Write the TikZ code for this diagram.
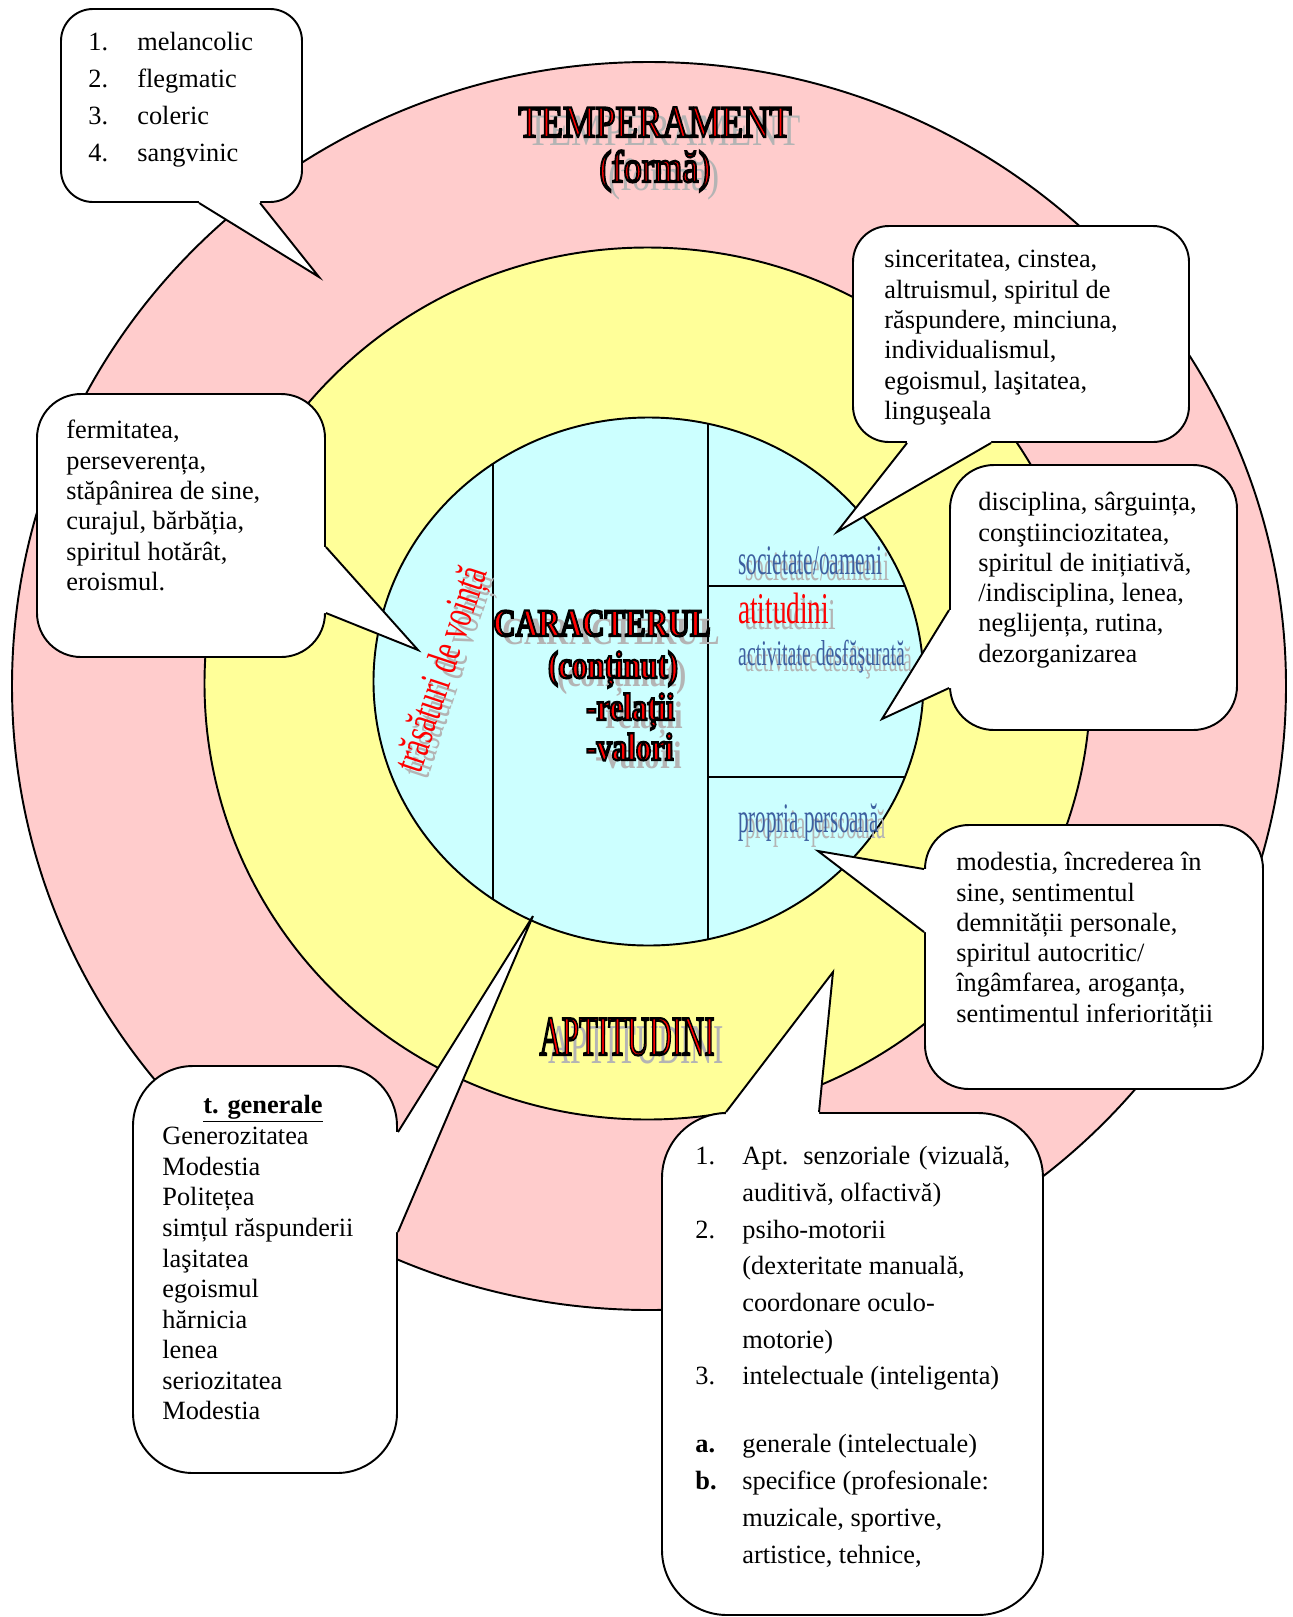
\documentclass[tikz,border=0pt]{standalone}
\usepackage{fontspec}
\setmainfont{Liberation Serif}
\usepackage{graphicx}
\usepackage{tikz}
\usetikzlibrary{calc,fit}

\definecolor{outerpink}{RGB}{255,204,204}
\definecolor{midyellow}{RGB}{255,255,153}
\definecolor{corecyan}{RGB}{204,255,255}
\definecolor{slateblue}{RGB}{61,96,160}
\definecolor{shadegray}{RGB}{180,180,180}

\newcommand{\bodyfont}{\fontsize{15}{17.25}\selectfont}
\newcommand{\listfont}{\fontsize{15}{21}\selectfont}
\newcommand{\aptfont}{\fontsize{15}{20.9}\selectfont}
\newcommand{\numcol}[1]{\makebox[0.98cm][l]{#1}}
\newcommand{\aptcol}[1]{\makebox[0.94cm][l]{#1}}

% fill in the current colour, stroke in black
\newcommand{\rimmed}[1]{\special{pdf:code q 0 0 0 RG 1.3 w 2 Tr}#1\special{pdf:code Q}}
% red letters with a black rim and a grey shadow
\newcommand{\artword}[4]{%
  \node[#1, text=shadegray] (#2-shade) at ($(#3)+(9,8)$) {#4};
  \node[#1, text=red] (#2) at (#3) {\rimmed{#4}};}
% plain coloured letters with a grey shadow
\newcommand{\flatword}[5]{%
  \node[#1, text=shadegray] (#2-shade) at ($(#3)+(7,6)$) {#4};
  \node[#1, text=#5] (#2) at (#3) {#4};}
% wedge of a callout: base points, tip, inward shift
\newcommand{\tailto}[4]{%
  \fill[white] ($(#1)+(#4)$) -- (#1) -- (#3) -- (#2) -- ($(#2)+(#4)$) -- cycle;
  \draw[tailline] (#1) -- (#3) -- (#2);}

\tikzset{
  ring/.style={draw=black, line width=1.1pt},
  callout/.style={draw=black, fill=white, line width=1.1pt, inner sep=0pt},
  tailline/.style={draw=black, line width=1.1pt, line join=miter},
  calltext/.style={anchor=north west, align=left, inner sep=0pt, font=\bodyfont},
}

\begin{document}
\begin{tikzpicture}[x=0.02cm, y=-0.02cm]
  \useasboundingbox (0,0) rectangle (1293,1617);
  \fill[white] (0,0) rectangle (1293,1617);

  % Rings: temperament, aptitudini, caracter
  \coordinate (outerC) at (649,686);
  \coordinate (midC) at (647.5,683.5);
  \coordinate (coreC) at (648.5,681.5);
  \draw[ring, fill=outerpink] (outerC) ellipse [x radius=637, y radius=624];
  \draw[ring, fill=midyellow] (midC) ellipse [x radius=443, y radius=436];
  \draw[ring, fill=corecyan] (coreC) ellipse [x radius=275, y radius=264];

  % Partitions inside the core
  \begin{scope}
    \clip (coreC) ellipse [x radius=275, y radius=264];
    \draw[ring] (493,400) -- (493,960);
    \draw[ring] (708,400) -- (708,960);
    \draw[ring] (708,586) -- (940,586);
    \draw[ring] (708,777) -- (940,777);
  \end{scope}

  % Ring titles
  \artword{anchor=base, font=\fontsize{25.6}{30}\selectfont}{temper}{655,137}{\scalebox{0.81}[1]{TEMPERAMENT}}
  \artword{anchor=base, font=\fontsize{25.6}{30}\selectfont}{forma}{655,182}{\scalebox{0.81}[1]{(formă)}}
  \artword{anchor=base, font=\fontsize{32}{36}\selectfont}{aptit}{627,1055}{\scalebox{0.55}[1]{APTITUDINI}}

  % Core labels
  \artword{anchor=base, font=\fontsize{21.9}{26}\selectfont\bfseries}{caract}{602,636}{\scalebox{0.8}[1]{CARACTERUL}}
  \artword{anchor=base, font=\fontsize{21.9}{26}\selectfont\bfseries}{continut}{613,678}{\scalebox{0.8}[1]{(conținut)}}
  \artword{anchor=base west, font=\fontsize{21.9}{26}\selectfont\bfseries}{relatii}{580,720}{\scalebox{0.8}[1]{-relații}}
  \artword{anchor=base west, font=\fontsize{21.9}{26}\selectfont\bfseries}{valori}{580,760}{\scalebox{0.8}[1]{-valori}}
  \flatword{anchor=base west, font=\fontsize{23.9}{28}\selectfont}{societate}{732,574}{\scalebox{0.51}[1]{societate/oameni}}{slateblue}
  \flatword{anchor=base west, font=\fontsize{25}{30}\selectfont}{atitudini}{732,623}{\scalebox{0.62}[1]{atitudini}}{red}
  \flatword{anchor=base west, font=\fontsize{20.5}{24}\selectfont}{activitate}{732,665}{\scalebox{0.55}[1]{activitate desfăşurată}}{slateblue}
  \flatword{anchor=base west, font=\fontsize{23.9}{28}\selectfont}{propria}{732,832}{\scalebox{0.5}[1]{propria persoană}}{slateblue}
  \flatword{rotate=71.6, font=\fontsize{25}{30}\selectfont}{vointa}{444,670}{\scalebox{0.67}[1]{trăsături de voință}}{red}

  % Callout: temperament types
  \node[callout, rounded corners=0.64cm, fit={(61,9) (302,202)}] (tempBox) {};
  \coordinate (tempTip) at (319,277);
  \coordinate (tempA) at ($(tempBox.south west)+(139,0)$);
  \coordinate (tempB) at ($(tempBox.south west)+(200,0)$);
  \tailto{tempA}{tempB}{tempTip}{0,-4}
  \node[calltext, font=\listfont] (tempText) at (88,32)
    {\numcol{1.}melancolic\\ \numcol{2.}flegmatic\\ \numcol{3.}coleric\\ \numcol{4.}sangvinic};

  % Callout: society
  \node[callout, rounded corners=0.72cm, fit={(853,226) (1189,442)}] (sincBox) {};
  \coordinate (sincTip) at (837,532);
  \coordinate (sincA) at ($(sincBox.south west)+(55,0)$);
  \coordinate (sincB) at ($(sincBox.south west)+(139,0)$);
  \tailto{sincA}{sincB}{sincTip}{0,-4}
  \node[calltext] (sincText) at (884,250)
    {sinceritatea, cinstea,\\ altruismul, spiritul de\\ răspundere, minciuna,\\
     individualismul,\\ egoismul, laşitatea,\\ linguşeala};

  % Callout: will
  \node[callout, rounded corners=0.88cm, fit={(37,394) (325,657)}] (fermBox) {};
  \coordinate (fermTip) at (418,650);
  \coordinate (fermA) at ($(fermBox.north east)+(0,154)$);
  \coordinate (fermB) at ($(fermBox.north east)+(0,220)$);
  \tailto{fermA}{fermB}{fermTip}{-4,0}
  \node[calltext] (fermText) at (66,420)
    {fermitatea,\\ perseverența,\\ stăpânirea de sine,\\ curajul, bărbăția,\\
     spiritul hotărât,\\ eroismul.};

  % Callout: activity
  \node[callout, rounded corners=0.88cm, fit={(950,465) (1237,730)}] (discBox) {};
  \coordinate (discTip) at (882,719);
  \coordinate (discA) at ($(discBox.north west)+(0,146)$);
  \coordinate (discB) at ($(discBox.north west)+(0,224)$);
  \tailto{discA}{discB}{discTip}{4,0}
  \node[calltext] (discText) at (978,492)
    {disciplina, sârguința,\\ conştiinciozitatea,\\ spiritul de inițiativă,\\
     /indisciplina, lenea,\\ neglijența, rutina,\\ dezorganizarea};

  % Callout: own person
  \node[callout, rounded corners=0.88cm, fit={(925,825) (1263,1089)}] (modBox) {};
  \coordinate (modTip) at (818,851);
  \coordinate (modA) at ($(modBox.north west)+(0,45)$);
  \coordinate (modB) at ($(modBox.north west)+(0,108)$);
  \tailto{modA}{modB}{modTip}{4,0}
  \node[calltext] (modText) at (956,852)
    {modestia, încrederea în\\ sine, sentimentul\\ demnității personale,\\
     spiritul autocritic/\\ îngâmfarea, aroganța,\\ sentimentul inferiorității};

  % Callout: general traits
  \node[callout, rounded corners=1.2cm, fit={(133,1066) (397,1473)}] (tgenBox) {};
  \coordinate (tgenTip) at (533,916);
  \coordinate (tgenA) at ($(tgenBox.north east)+(0,67)$);
  \coordinate (tgenB) at ($(tgenBox.north east)+(0,167)$);
  \tailto{tgenA}{tgenB}{tgenTip}{-4,0}
  \node[anchor=base, inner sep=0pt, font=\bodyfont\bfseries] (tgenTitle) at (263,1113) {\underline{t. generale}};
  \node[calltext, font=\fontsize{15}{17.4}\selectfont] (tgenText) at (162,1127)
    {Generozitatea\\ Modestia\\ Politețea\\ simțul răspunderii\\ laşitatea\\
     egoismul\\ hărnicia\\ lenea\\ seriozitatea\\ Modestia};

  % Callout: aptitudes
  \node[callout, rounded corners=1.3cm, fit={(662,1113) (1043,1615)}] (aptBox) {};
  \coordinate (aptTip) at (833,972);
  \coordinate (aptA) at ($(aptBox.north west)+(65,0)$);
  \coordinate (aptB) at ($(aptBox.north west)+(158,0)$);
  \tailto{aptA}{aptB}{aptTip}{0,4}
  \node[calltext, font=\aptfont] (aptText) at (695,1146)
    {\aptcol{1.}\makebox[5.36cm][s]{Apt. senzoriale (vizuală,}\\
     \aptcol{}auditivă, olfactivă)\\
     \aptcol{2.}psiho-motorii\\
     \aptcol{}(dexteritate manuală,\\
     \aptcol{}coordonare oculo-\\
     \aptcol{}motorie)\\
     \aptcol{3.}intelectuale (inteligenta)\\[17.8pt]
     \aptcol{\textbf{a.}}generale (intelectuale)\\
     \aptcol{\textbf{b.}}specifice (profesionale:\\
     \aptcol{}muzicale, sportive,\\
     \aptcol{}artistice, tehnice,};
\end{tikzpicture}
\end{document}
